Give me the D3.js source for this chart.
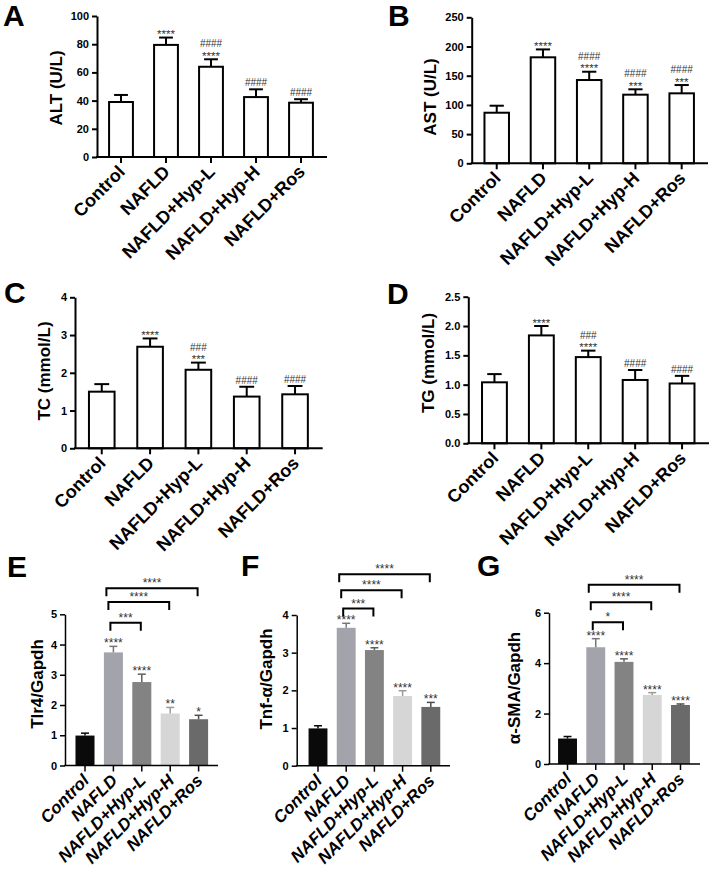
<!DOCTYPE html>
<html lang="en">
<head>
    <meta charset="UTF-8">
    <title>NAFLD serum and gene panels</title>
    <script src="https://cdnjs.cloudflare.com/ajax/libs/d3/7.8.5/d3.min.js"></script>
    <style>
        body { margin: 0; background: white; }
        svg { display: block; font-family: "Liberation Sans", Arial, sans-serif; }
        .tick text { font-weight: bold; font-size: 11px; fill: #000; }
        .ylab { font-weight: bold; font-size: 17px; }
        .xlab { font-weight: bold; }
        .letter { font-weight: bold; font-size: 30px; }
        .sig { fill: #333; }
        .hash { font-size: 10px; fill: #333; }
    </style>
</head>
<body>
<svg id="chart" width="715" height="876"></svg>
<script>
    const groups = ['Control', 'NAFLD', 'NAFLD+Hyp-L', 'NAFLD+Hyp-H', 'NAFLD+Ros'];

    // serum panels (mean, upper SD)
    const altMean = [39, 79.5, 64, 42.5, 38.5];
    const altErr = [5, 5.2, 5.3, 5.5, 2.5];
    const altStars = ['', '****', '****', '', ''];
    const altHash = ['', '', '####', '####', '####'];

    const astMean = [86.6, 181.5, 142.6, 117.5, 119.8];
    const astErr = [12, 13.5, 14.2, 9.2, 14.2];
    const astStars = ['', '****', '****', '***', '***'];
    const astHash = ['', '', '####', '####', '####'];

    const tcMean = [1.50, 2.69, 2.08, 1.37, 1.43];
    const tcErr = [0.20, 0.22, 0.19, 0.26, 0.22];
    const tcStars = ['', '****', '***', '', ''];
    const tcHash = ['', '', '###', '####', '####'];

    const tgMean = [1.04, 1.84, 1.47, 1.08, 1.02];
    const tgErr = [0.14, 0.16, 0.11, 0.17, 0.13];
    const tgStars = ['', '****', '****', '', ''];
    const tgHash = ['', '', '###', '####', '####'];

    // gene expression panels
    const tlr4Mean = [0.99, 3.74, 2.76, 1.72, 1.53];
    const tlr4Err = [0.08, 0.20, 0.26, 0.20, 0.13];
    const tlr4Stars = ['', '****', '****', '**', '*'];
    const tlr4Brackets = ['***', '****', '****'];
    const tlr4BracketY = [4.72, 5.41, 5.86];

    const tnfMean = [0.99, 3.66, 3.07, 1.85, 1.56];
    const tnfErr = [0.07, 0.12, 0.06, 0.14, 0.12];
    const tnfStars = ['', '****', '****', '****', '***'];
    const tnfBrackets = ['***', '****', '****'];
    const tnfBracketY = [4.17, 4.66, 5.08];

    const smaMean = [1.01, 4.63, 4.05, 2.74, 2.34];
    const smaErr = [0.08, 0.34, 0.12, 0.09, 0.04];
    const smaStars = ['', '****', '****', '****', '****'];
    const smaBrackets = ['*', '****', '****'];
    const smaBracketY = [5.62, 6.41, 7.11];

    const geneColors = ['#0a0a0a', '#a3a3ab', '#838383', '#d6d6d6', '#6a6a6a'];

    const svg = d3.select('#chart');

    function drawPanel(p) {
        const g = svg.append('g');
        const x = d3.scaleBand().domain(groups).range(p.band)
            .paddingInner(p.pad).paddingOuter(p.pad / 2);
        const y = d3.scaleLinear().domain([0, p.max]).range([p.y0, p.yTop]);
        const lw = p.gene ? 1.5 : 2;

        // bars
        g.selectAll('rect.bar').data(p.mean).enter().append('rect')
            .attr('class', 'bar')
            .attr('x', (d, i) => x(groups[i]))
            .attr('width', x.bandwidth())
            .attr('y', d => y(d))
            .attr('height', d => y(0) - y(d))
            .attr('fill', (d, i) => p.gene ? geneColors[i] : 'white')
            .attr('stroke', p.gene ? 'none' : 'black')
            .attr('stroke-width', lw);

        // error bars (upper) + significance marks
        const cap = x.bandwidth() * (p.gene ? 0.42 : 0.58);
        const ec = i => p.gene ? d3.color(geneColors[i]).darker(0.9) : 'black';
        p.mean.forEach((m, i) => {
            const cx = x(groups[i]) + x.bandwidth() / 2;
            const top = y(m + p.err[i]);
            g.append('line').attr('x1', cx).attr('x2', cx)
                .attr('y1', y(m)).attr('y2', top)
                .attr('stroke', ec(i)).attr('stroke-width', lw);
            g.append('line').attr('x1', cx - cap / 2).attr('x2', cx + cap / 2)
                .attr('y1', top).attr('y2', top)
                .attr('stroke', ec(i)).attr('stroke-width', lw);
            const s = p.stars[i];
            const h = p.hash ? p.hash[i] : '';
            if (s) {
                g.append('text').attr('class', 'sig').attr('text-anchor', 'middle')
                    .style('font-size', p.gene ? '12px' : '11.5px')
                    .attr('x', cx).attr('y', top + (p.gene ? 1 : 0.5)).text(s);
            }
            if (h) {
                g.append('text').attr('class', 'hash').attr('text-anchor', 'middle')
                    .attr('x', cx).attr('y', top - (s ? 12 : 3)).text(h);
            }
        });

        // comparison brackets
        if (p.brackets) {
            const c = i => x(groups[i]) + x.bandwidth() / 2;
            p.brackets.forEach((lab, k) => {
                const by = y(p.bracketY[k]);
                const x1 = c(1) - 3 - 2 * k;
                const x2 = c(k + 2) - 1;
                g.append('path')
                    .attr('d', `M${x1},${by + 8}V${by}H${x2}V${by + 8}`)
                    .attr('fill', 'none').attr('stroke', 'black').attr('stroke-width', 2);
                g.append('text').attr('class', 'sig').attr('text-anchor', 'middle')
                    .style('font-size', '12px')
                    .attr('x', (x1 + x2) / 2).attr('y', by - 1).text(lab);
            });
        }

        // y axis
        const yAxis = d3.axisLeft(y).tickValues(p.ticks).tickSize(5).tickPadding(3)
            .tickSizeOuter(0).tickFormat(p.fmt || d3.format('d'));
        const ya = g.append('g').attr('transform', `translate(${p.axisX},0)`).call(yAxis);
        ya.selectAll('path, line').attr('stroke', 'black').attr('stroke-width', lw);

        // x axis
        g.append('line').attr('x1', p.axisX - lw / 2).attr('x2', p.xEnd)
            .attr('y1', y(0)).attr('y2', y(0))
            .attr('stroke', 'black').attr('stroke-width', lw);
        groups.forEach(gr => {
            const cx = x(gr) + x.bandwidth() / 2;
            g.append('line').attr('x1', cx).attr('x2', cx)
                .attr('y1', y(0)).attr('y2', y(0) + 6)
                .attr('stroke', 'black').attr('stroke-width', lw);
            g.append('text').attr('class', 'xlab')
                .attr('text-anchor', 'end')
                .style('font-size', p.gene ? '17px' : '18px')
                .attr('font-style', p.gene ? 'italic' : 'normal')
                .attr('transform', `translate(${cx + 5},${y(0) + 16}) rotate(-45)`)
                .text(gr);
        });

        // y title and panel letter
        g.append('text').attr('class', 'ylab').attr('text-anchor', 'middle')
            .attr('transform', `translate(${p.ylab[0]},${p.ylab[1]}) rotate(-90)`)
            .attr('dy', '0.35em').text(p.title);
        g.append('text').attr('class', 'letter').attr('x', p.letter[0]).attr('y', p.letter[1])
            .text(p.name);
    }

    drawPanel({name: 'A', title: 'ALT (U/L)', mean: altMean, err: altErr, stars: altStars, hash: altHash,
        max: 100, ticks: [0, 20, 40, 60, 80, 100], axisX: 97, band: [98.5, 323.5], xEnd: 327,
        y0: 157, yTop: 16, pad: 0.47, ylab: [56, 88], letter: [3, 26]});
    drawPanel({name: 'B', title: 'AST (U/L)', mean: astMean, err: astErr, stars: astStars, hash: astHash,
        max: 250, ticks: [0, 50, 100, 150, 200, 250], axisX: 471.7, band: [473.6, 704.8], xEnd: 708,
        y0: 163.3, yTop: 17.3, pad: 0.47, ylab: [430, 97], letter: [388, 26]});
    drawPanel({name: 'C', title: 'TC (mmol/L)', mean: tcMean, err: tcErr, stars: tcStars, hash: tcHash,
        max: 4, ticks: [0, 1, 2, 3, 4], axisX: 75, band: [77.6, 319.2], xEnd: 322.7,
        y0: 448.3, yTop: 297.3, pad: 0.47, ylab: [44, 371], letter: [4, 303]});
    drawPanel({name: 'D', title: 'TG (mmol/L)', mean: tgMean, err: tgErr, stars: tgStars, hash: tgHash,
        max: 2.5, ticks: [0, 0.5, 1, 1.5, 2, 2.5], fmt: d3.format('.1f'), axisX: 468.3, band: [471, 705.5], xEnd: 709,
        y0: 443.3, yTop: 296.7, pad: 0.47, ylab: [428, 363], letter: [387, 304]});
    drawPanel({name: 'E', title: 'Tlr4/Gapdh', gene: true, mean: tlr4Mean, err: tlr4Err, stars: tlr4Stars,
        brackets: tlr4Brackets, bracketY: tlr4BracketY,
        max: 5, ticks: [0, 1, 2, 3, 4, 5], axisX: 65, band: [70.8, 212.8], xEnd: 218,
        y0: 765.5, yTop: 614.3, pad: 0.33, ylab: [37, 684], letter: [7, 577]});
    drawPanel({name: 'F', title: 'Tnf-α/Gapdh', gene: true, mean: tnfMean, err: tnfErr, stars: tnfStars,
        brackets: tnfBrackets, bracketY: tnfBracketY,
        max: 4, ticks: [0, 1, 2, 3, 4], axisX: 296.7, band: [303.9, 444.9], xEnd: 450,
        y0: 765.7, yTop: 615, pad: 0.33, ylab: [266.5, 679], letter: [241, 576]});
    drawPanel({name: 'G', title: 'α-SMA/Gapdh', gene: true, mean: smaMean, err: smaErr, stars: smaStars,
        brackets: smaBrackets, bracketY: smaBracketY,
        max: 6, ticks: [0, 2, 4, 6], axisX: 549, band: [553.4, 694.6], xEnd: 700,
        y0: 764, yTop: 612.7, pad: 0.33, ylab: [514, 688], letter: [477, 576]});
</script>
</body>
</html>
